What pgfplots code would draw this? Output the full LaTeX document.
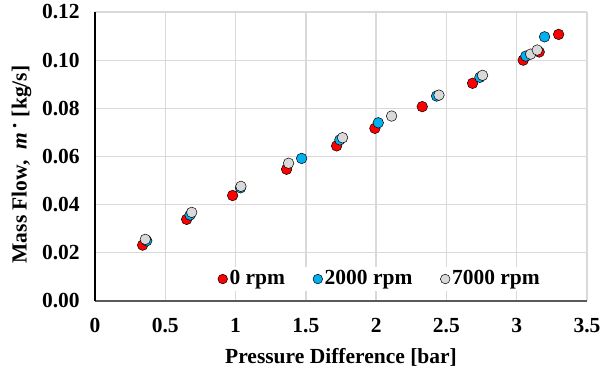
\documentclass[border=0pt]{standalone}
\usepackage{fontspec}
\setmainfont{Liberation Serif}
\usepackage{pgfplots}
\pgfplotsset{compat=1.18}
\definecolor{cred}{HTML}{FF0000}
\definecolor{cblue}{HTML}{00B0F0}
\definecolor{cgray}{HTML}{D9D9D9}
\definecolor{gridc}{HTML}{D9D9D9}
\definecolor{axc}{HTML}{595959}
\begin{document}
\fontsize{21.5bp}{25bp}\selectfont
\begin{tikzpicture}
\path[use as bounding box] (-95bp,-70bp) rectangle (506bp,301bp);
\begin{axis}[
  at={(0,0)}, anchor=south west,
  scale only axis, width=492bp, height=289bp,
  xmin=0, xmax=3.5, ymin=0, ymax=0.12,
  xtick={0,0.5,...,3.5}, ytick={0,0.02,...,0.12},
  xticklabels={0,0.5,1,1.5,2,2.5,3,3.5},
  yticklabel style={/pgf/number format/fixed, /pgf/number format/fixed zerofill, /pgf/number format/precision=2, xshift=-8bp},
  /pgf/number format/assume math mode=true,
  ticklabel style={font=\fontsize{21.5bp}{25bp}\selectfont\bfseries},
  xticklabel style={yshift=-10bp},
  major tick length=0pt,
  grid=major,
  major grid style={gridc, line width=1.3bp},
  axis line style={draw=none},
  axis x line*=bottom, axis y line*=left,
  x axis line style={draw=axc, line width=1.3bp, -},
  y axis line style={draw=black, line width=1.3bp, -},
  separate axis lines,
  xlabel={\bfseries Pressure Difference [bar]},
  ylabel={\bfseries Mass Flow,\ \ \textit{m}\,\raisebox{0.5ex}{·}\ [kg/s]},
  label style={font=\fontsize{21.5bp}{25bp}\selectfont},
  xlabel style={yshift=-1bp},
  ylabel style={yshift=-4bp, xshift=-8bp},
  legend style={at={(0.579,0.076)}, anchor=center, draw=none, fill=white,
    font=\fontsize{21.5bp}{25bp}\selectfont\bfseries, legend columns=3,
    /tikz/every even column/.append style={column sep=26bp},
    inner sep=1bp},
  legend image code/.code={\draw[#1, mark size=4.8bp] plot coordinates {(5bp,0bp)};},
  legend cell align=left,
]
\addplot[only marks, mark=*, mark size=5.3bp, mark options={fill=cred, draw=black, line width=0.5bp}] coordinates {
(0.339,0.0232) (0.652,0.0339) (0.979,0.0438) (1.363,0.0547) (1.719,0.0644) (1.991,0.0717) (2.328,0.0807) (2.686,0.0904) (3.046,0.1000) (3.160,0.1034) (3.298,0.1107)};
\addlegendentry{0 rpm}
\addplot[only marks, mark=*, mark size=5.3bp, mark options={fill=cblue, draw=black, line width=0.5bp}] coordinates {
(0.368,0.0250) (0.676,0.0357) (1.035,0.0470) (1.470,0.0592) (1.742,0.0669) (2.015,0.0740) (2.430,0.0851) (2.738,0.0929) (3.065,0.1017) (3.198,0.1097)};
\addlegendentry{2000 rpm}
\addplot[only marks, mark=*, mark size=5.3bp, mark options={fill=cgray, draw=black, line width=0.5bp}] coordinates {
(0.358,0.0256) (0.688,0.0368) (1.038,0.0476) (1.377,0.0572) (1.761,0.0678) (2.110,0.0768) (2.447,0.0855) (2.757,0.0937) (3.099,0.1025) (3.146,0.1042)};
\addlegendentry{7000 rpm}
\end{axis}
\end{tikzpicture}
\end{document}
